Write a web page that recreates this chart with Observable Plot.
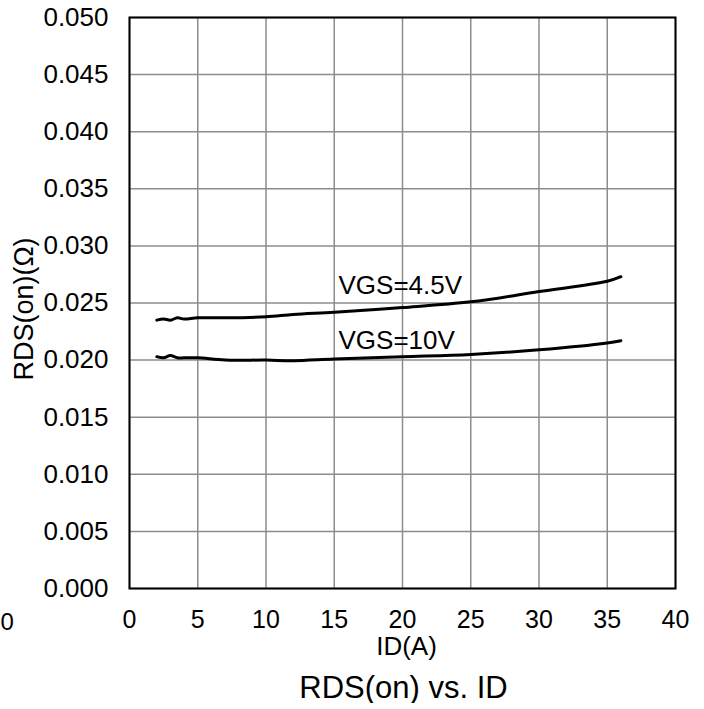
<!DOCTYPE html>
<html><head><meta charset="utf-8">
<script src="https://cdn.jsdelivr.net/npm/d3@7"></script>
<script src="https://cdn.jsdelivr.net/npm/@observablehq/plot@0.6"></script>
<style>
body{margin:0;background:#fff;font-family:"Liberation Sans",Arial,sans-serif;}
#title{width:704px;text-align:center;font-size:31px;padding-left:103px;box-sizing:border-box;line-height:30px;margin-top:13px;}
#chart svg{display:block;}
</style></head><body>
<div id="chart"></div>
<div id="title">RDS(on) vs. ID</div>
<script>
const id45 = [2, 2.5, 3, 3.5, 4, 5, 7, 10, 12, 15, 20, 25, 30, 35, 36];
const r45 = [0.0235, 0.0236, 0.0235, 0.0237, 0.0236, 0.0237, 0.0237, 0.0238, 0.0240, 0.0242, 0.0246, 0.0251, 0.0260, 0.0269, 0.0273];
const id10 = [2, 2.5, 3, 3.5, 4, 5, 7, 10, 12, 15, 20, 25, 30, 35, 36];
const r10 = [0.0203, 0.0202, 0.0204, 0.0202, 0.0202, 0.0202, 0.0200, 0.0200, 0.01995, 0.0201, 0.0203, 0.0205, 0.0209, 0.0215, 0.0217];
const seriesLabels = ["VGS=4.5V", "VGS=10V"];
const labelX = [15.31, 15.31];
const labelY = [0.02649, 0.02171];
const xTicks = [0, 5, 10, 15, 20, 25, 30, 35, 40];
const yTicks = [0, 0.005, 0.01, 0.015, 0.02, 0.025, 0.03, 0.035, 0.04, 0.045, 0.05];

const d45 = id45.map((x, i) => ({x, y: r45[i]}));
const d10 = id10.map((x, i) => ({x, y: r10[i]}));
const labs = seriesLabels.map((t, i) => ({t, x: labelX[i], y: labelY[i]}));
const F = "Liberation Sans, Arial, sans-serif";

const chart = Plot.plot({
  width: 704, height: 660,
  marginLeft: 129, marginRight: 29, marginTop: 17, marginBottom: 72,
  style: {fontFamily: F, background: "#fff", overflow: "visible"},
  x: {domain: [0, 40], ticks: xTicks, label: null},
  y: {domain: [0, 0.05], ticks: yTicks, label: null},
  marks: [
    Plot.gridX(xTicks, {stroke: "#8c8c8c", strokeOpacity: 1, strokeWidth: 1.5}),
    Plot.gridY(yTicks, {stroke: "#8c8c8c", strokeOpacity: 1, strokeWidth: 1.5}),
    Plot.frame({stroke: "#000", strokeWidth: 2}),
    Plot.axisX(xTicks, {tickSize: 0, tickPadding: 22, fontSize: 25, fontFamily: F, fill: "#000", label: null}),
    Plot.axisY(yTicks, {tickSize: 0, tickPadding: 21, tickFormat: d3.format(".3f"), fontSize: 26, fontFamily: F, fill: "#000", label: null}),
    Plot.text(["ID(A)"], {frameAnchor: "bottom", dx: 4, dy: 66, fontSize: 26, fontFamily: F, fill: "#000"}),
    Plot.text(["0"], {frameAnchor: "bottom-left", dx: -129, dy: 41, fontSize: 24, fontFamily: F, fill: "#000"}),
    Plot.text(["RDS(on)(Ω)"], {frameAnchor: "left", textAnchor: "middle", dx: -105, dy: 6, rotate: -90, fontSize: 27, fontFamily: F, fill: "#000"}),
    Plot.line(d45, {x: "x", y: "y", stroke: "#000", strokeWidth: 3, curve: "catmull-rom"}),
    Plot.line(d10, {x: "x", y: "y", stroke: "#000", strokeWidth: 3, curve: "catmull-rom"}),
    Plot.text(labs, {x: "x", y: "y", text: "t", textAnchor: "start", fontSize: 26, fontFamily: F, fill: "#000"})
  ]
});
document.getElementById("chart").appendChild(chart);
</script>
</body></html>
